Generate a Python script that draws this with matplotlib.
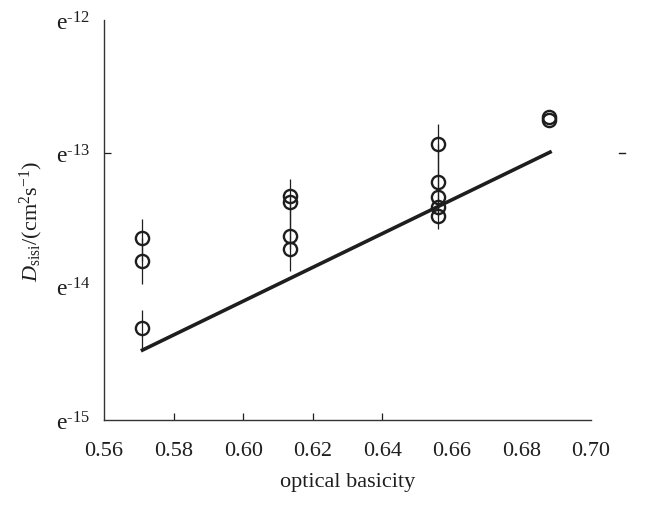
import numpy as np
import matplotlib
matplotlib.use("Agg")
import matplotlib.pyplot as plt
import matplotlib.transforms as mtransforms

plt.rcParams['font.family'] = ['Liberation Serif', 'DejaVu Serif']
plt.rcParams['mathtext.fontset'] = 'custom'
plt.rcParams['mathtext.rm'] = 'Liberation Serif'
plt.rcParams['mathtext.it'] = 'Liberation Serif:italic'

# data (x = optical basicity, y = diffusivity in cm2/s)
x_pts = [0.5709, 0.5709, 0.5709,
         0.6134, 0.6134, 0.6134, 0.6134,
         0.6560, 0.6560, 0.6560, 0.6560, 0.6560,
         0.6879, 0.6879]
y_pts = [2.30e-14, 1.57e-14, 4.92e-15,
         4.75e-14, 4.29e-14, 2.41e-14, 1.93e-14,
         1.17e-13, 6.05e-14, 4.67e-14, 3.93e-14, 3.36e-14,
         1.87e-13, 1.77e-13]
# error bar ends
y_hi = [3.24e-14, 2.30e-14, 6.72e-15,
        6.38e-14, 4.75e-14, 4.29e-14, 2.41e-14,
        1.65e-13, 1.17e-13, 6.05e-14, 4.67e-14, 3.93e-14,
        1.87e-13, 1.77e-13]
y_lo = [1.57e-14, 1.05e-14, 3.36e-15,
        4.29e-14, 2.41e-14, 1.93e-14, 1.30e-14,
        6.05e-14, 4.67e-14, 3.93e-14, 3.36e-14, 2.73e-14,
        1.87e-13, 1.77e-13]

# fitted line
fit_x = [0.5706, 0.6887]
fit_y = [3.30e-15, 1.035e-13]

xticks = [0.56, 0.58, 0.60, 0.62, 0.64, 0.66, 0.68, 0.70]
yticks = [1e-15, 1e-14, 1e-13, 1e-12]
ytick_labels = [r'$\mathrm{e}^{\text{-15}}$', r'$\mathrm{e}^{\text{-14}}$',
                r'$\mathrm{e}^{\text{-13}}$', r'$\mathrm{e}^{\text{-12}}$']

col = '#1e1e1e'

fig = plt.figure(figsize=(6.58, 5.06), dpi=100)
ax = fig.add_axes([104/658, 1 - 421/506, 487/658, 400/506])

y_arr = np.array(y_pts)
yerr = [y_arr - np.array(y_lo), np.array(y_hi) - y_arr]
ax.errorbar(x_pts, y_pts, yerr=yerr, fmt='none', ecolor=col, elinewidth=0.9, capsize=0, zorder=2)
ax.plot(fit_x, fit_y, color=col, lw=2.6, solid_capstyle='butt', zorder=3)
ax.plot(x_pts, y_pts, 'o', ms=9.5, mfc='none', mec=col, mew=1.7, zorder=4)

ax.set_yscale('log')
ax.set_xlim(0.56, 0.70)
ax.set_ylim(1e-15, 1e-12)
ax.set_xticks(xticks)
ax.set_xticklabels(['%.2f' % t for t in xticks])
ax.set_yticks(yticks)
ax.set_yticklabels(ytick_labels)
ax.minorticks_off()

ax.tick_params(axis='x', direction='in', length=5, width=0.9, pad=15, labelsize=16, colors=col)
ax.tick_params(axis='y', direction='in', length=5, width=0.9, pad=10, labelsize=17, colors=col)
# only some ticks are visible in the original
for i, t in enumerate(ax.xaxis.get_major_ticks()):
    if xticks[i] not in (0.58, 0.60, 0.62, 0.64):
        t.tick1line.set_visible(False)
for i, t in enumerate(ax.yaxis.get_major_ticks()):
    if yticks[i] != 1e-13:
        t.tick1line.set_visible(False)

for s in ['top', 'right']:
    ax.spines[s].set_visible(False)
for s in ['left', 'bottom']:
    ax.spines[s].set_linewidth(1.0)
    ax.spines[s].set_color('#333333')

# stray tick on the right at e-13
trans = mtransforms.blended_transform_factory(ax.transAxes, ax.transData)
ax.plot([1.058, 1.069], [1e-13, 1e-13], color=col, lw=1.0, transform=trans, clip_on=False)

ax.set_xlabel('optical basicity', fontsize=16, labelpad=9, color=col)
ax.set_ylabel(r'$\mathit{D}_{\mathrm{sisi}}/(\mathrm{cm}^{2}\mathrm{s}^{-1})$', fontsize=16, labelpad=8, color=col)

fig.savefig('out.png', dpi=100)
